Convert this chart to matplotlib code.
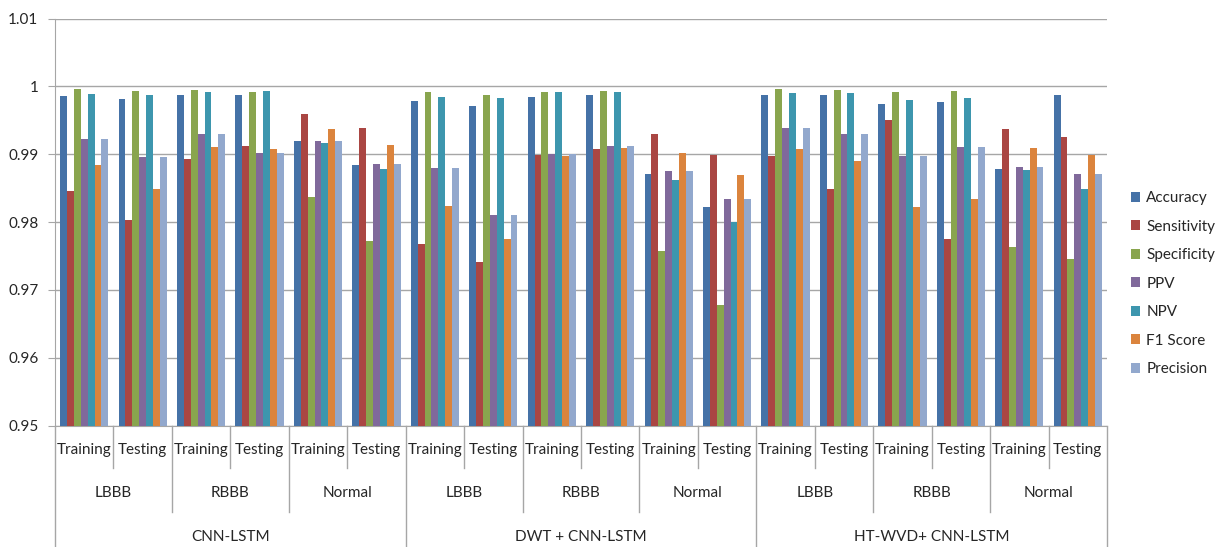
import matplotlib
matplotlib.use("Agg")
import matplotlib.pyplot as plt
import matplotlib.transforms as mtransforms
import numpy as np

plt.rcParams['font.family'] = ['Lato', 'DejaVu Sans']

# Category hierarchy
methods = ["CNN-LSTM", "DWT + CNN-LSTM", "HT-WVD+ CNN-LSTM"]
classes = ["LBBB", "RBBB", "Normal"]
phases = ["Training", "Testing"]

metrics = ["Accuracy", "Sensitivity", "Specificity", "PPV", "NPV", "F1 Score", "Precision"]
colors = ["#4572A7", "#AA4643", "#89A54E", "#80699B", "#3D96AE", "#DB843D", "#92A8CD"]

# One value per (method, class, phase) column, in order
accuracy = [0.99857, 0.99813, 0.99867, 0.99867, 0.99189, 0.98840,
            0.99779, 0.99710, 0.99843, 0.99867, 0.98708, 0.98226,
            0.99877, 0.99867, 0.99735, 0.99764, 0.98786, 0.99867]
sensitivity = [0.98457, 0.98034, 0.98929, 0.99115, 0.99587, 0.99386,
               0.97681, 0.97413, 0.98988, 0.99076, 0.99297, 0.98983,
               0.98968, 0.98491, 0.99499, 0.97747, 0.99376, 0.99253]
specificity = [0.99956, 0.99931, 0.99946, 0.99921, 0.98373, 0.97725,
               0.99921, 0.99867, 0.99921, 0.99931, 0.97566, 0.96779,
               0.99961, 0.99951, 0.99921, 0.99931, 0.97633, 0.97457]
ppv = [0.99219, 0.98953, 0.99297, 0.99022, 0.99189, 0.98860,
       0.98791, 0.98103, 0.99002, 0.99115, 0.98752, 0.98334,
       0.99386, 0.99297, 0.98968, 0.99106, 0.98806, 0.98713]
npv = [0.99892, 0.99867, 0.99912, 0.99931, 0.99170, 0.98781,
       0.99843, 0.99823, 0.99912, 0.99921, 0.98619, 0.97998,
       0.99902, 0.99902, 0.99803, 0.99823, 0.98762, 0.98491]
f1_score = [0.98840, 0.98491, 0.99106, 0.99076, 0.99376, 0.99130,
            0.98241, 0.97755, 0.98968, 0.99096, 0.99022, 0.98698,
            0.99076, 0.98894, 0.98224, 0.98339, 0.99086, 0.98983]
precision = [0.99219, 0.98953, 0.99297, 0.99022, 0.99189, 0.98860,
             0.98791, 0.98103, 0.99002, 0.99115, 0.98752, 0.98334,
             0.99386, 0.99297, 0.98968, 0.99106, 0.98806, 0.98713]

series = [accuracy, sensitivity, specificity, ppv, npv, f1_score, precision]

W, H = 1217, 547
fig = plt.figure(figsize=(W / 100, H / 100), dpi=100)
ax_left, ax_right, ax_top, ax_bot = 55, 1107, 18.5, 425.5
ax = fig.add_axes([ax_left / W, 1 - ax_bot / H, (ax_right - ax_left) / W, (ax_bot - ax_top) / H])

text_color = "#262626"
line_color = "#A6A6A6"

n_groups = len(accuracy)
x = np.arange(n_groups)
n_series = len(series)
bar_w = 1.0 / (n_series + 1.5)
for i, (vals, col, name) in enumerate(zip(series, colors, metrics)):
    offs = (i - (n_series - 1) / 2) * bar_w
    ax.bar(x + offs, np.array(vals) - 0.95, bottom=0.95, width=bar_w,
           color=col, label=name, zorder=3, linewidth=0)

ax.set_xlim(-0.5, n_groups - 0.5)
ax.set_ylim(0.95, 1.01)
yt = [0.95, 0.96, 0.97, 0.98, 0.99, 1.0, 1.01]
ax.set_yticks(yt)
ax.set_yticklabels(["0.95", "0.96", "0.97", "0.98", "0.99", "1", "1.01"],
                   fontsize=11, color=text_color)
ax.tick_params(axis='y', length=5, color=line_color, pad=7)
ax.set_xticks([])
ax.grid(axis='y', color=line_color, linewidth=1, zorder=0)
ax.set_axisbelow(True)
for s in ["top", "right"]:
    ax.spines[s].set_visible(False)
ax.spines["left"].set_color(line_color)
ax.spines["bottom"].set_color(line_color)

# Hierarchical category axis below the plot
tr = mtransforms.blended_transform_factory(ax.transData, fig.transFigure)
def fy(py):
    return 1 - py / H

lvl1_end, lvl2_end, lvl3_end = 468, 512, 547
for b in range(n_groups + 1):
    xb = b - 0.5
    if b % 6 == 0:
        y_end = lvl3_end
    elif b % 2 == 0:
        y_end = lvl2_end
    else:
        y_end = lvl1_end
    ax.plot([xb, xb], [fy(ax_bot), fy(y_end)], transform=tr, color=line_color,
            linewidth=1, clip_on=False)

for g in range(n_groups):
    fig.text(g, fy(450), phases[g % 2], transform=tr, ha="center", va="center",
             fontsize=11, color=text_color)
for c in range(n_groups // 2):
    fig.text(2 * c + 0.5, fy(493), classes[c % 3], transform=tr, ha="center",
             va="center", fontsize=11, color=text_color)
for m in range(len(methods)):
    fig.text(6 * m + 2.5, fy(537), methods[m], transform=tr, ha="center",
             va="center", fontsize=11, color=text_color)

leg = ax.legend(loc="upper left", bbox_to_anchor=(1125 / W, 1 - 185 / H),
                bbox_transform=fig.transFigure, frameon=False, fontsize=11,
                handlelength=0.6, handleheight=0.6, handletextpad=0.4,
                labelspacing=0.95, borderaxespad=0)
for t in leg.get_texts():
    t.set_color(text_color)

fig.savefig("out.png", dpi=100)
